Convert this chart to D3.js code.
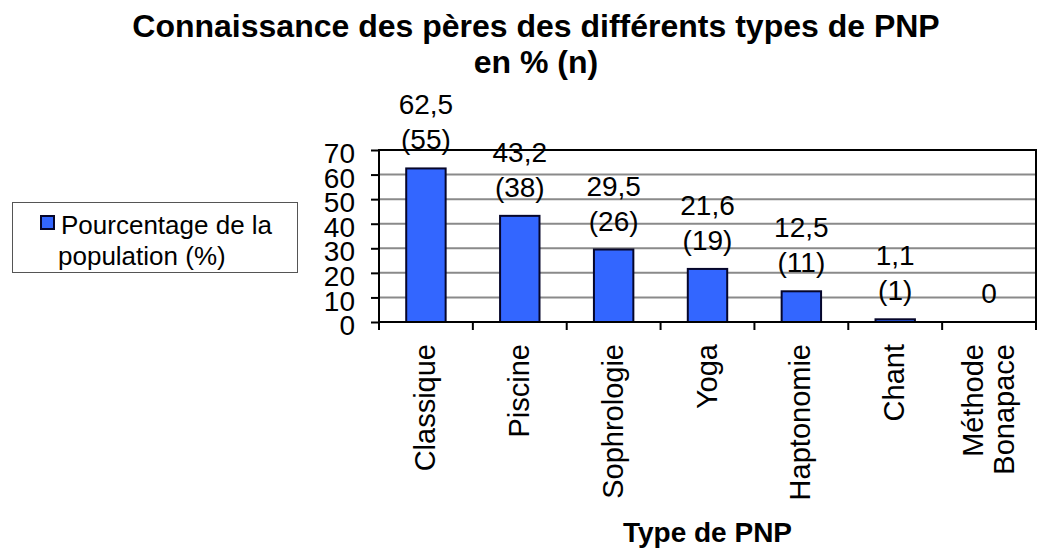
<!DOCTYPE html>
<html>
<head>
<meta charset="utf-8">
<script src="https://cdn.jsdelivr.net/npm/d3@7"></script>
<style>
  body { margin: 0; background: #fff; }
  text { font-family: "Liberation Sans", Arial, sans-serif; fill: #000; }
</style>
</head>
<body>
<div id="chart"></div>
<script>
// data
const categories = ["Classique", "Piscine", "Sophrologie", "Yoga", "Haptonomie", "Chant", "Méthode Bonapace"];
const percentages = [62.5, 43.2, 29.5, 21.6, 12.5, 1.1, 0];
const counts = [55, 38, 26, 19, 11, 1, 0];
const yTicks = [0, 10, 20, 30, 40, 50, 60, 70];
const titleLines = ["Connaissance des pères des différents types de PNP", "en % (n)"];
const xTitle = "Type de PNP";
const legendLines = ["Pourcentage de la", "population (%)"];

const width = 1038, height = 548;
const plot = { left: 379, right: 1036, top: 150, bottom: 322 };

const svg = d3.select("#chart").append("svg")
  .attr("width", width)
  .attr("height", height);

const x = d3.scaleBand()
  .domain(categories)
  .range([plot.left, plot.right])
  .paddingInner(0.58)
  .paddingOuter(0.29);

const y = d3.scaleLinear()
  .domain([0, 70])
  .range([plot.bottom, plot.top]);

// title
svg.append("text")
  .attr("text-anchor", "middle")
  .style("font-size", "32px")
  .style("font-weight", "bold")
  .selectAll("tspan")
  .data(titleLines)
  .join("tspan")
  .attr("x", 536)
  .attr("y", (d, i) => 37 + i * 36)
  .text(d => d);

// grid lines
svg.append("g")
  .selectAll("line")
  .data(yTicks.filter(t => t > 0 && t < 70))
  .join("line")
  .attr("x1", plot.left)
  .attr("x2", plot.right)
  .attr("y1", d => y(d))
  .attr("y2", d => y(d))
  .attr("stroke", "#8a8a8a")
  .attr("stroke-width", 2);

// y axis
const yAxis = svg.append("g")
  .attr("transform", `translate(${plot.left},0)`)
  .call(d3.axisLeft(y).tickValues(yTicks).tickSize(8).tickPadding(16));
yAxis.select(".domain").remove();
yAxis.selectAll(".tick line").attr("stroke", "#000").attr("stroke-width", 2);
yAxis.selectAll(".tick text")
  .attr("dy", "0.45em")
  .style("font-size", "28px")
  .style("font-family", "'Liberation Sans', Arial, sans-serif");

// x tick marks at category boundaries
const step = x.step();
svg.append("g")
  .selectAll("line")
  .data(d3.range(categories.length + 1))
  .join("line")
  .attr("x1", i => plot.left + i * step)
  .attr("x2", i => plot.left + i * step)
  .attr("y1", plot.bottom)
  .attr("y2", plot.bottom + 8)
  .attr("stroke", "#000")
  .attr("stroke-width", 2);

// bars
svg.append("g")
  .selectAll("rect")
  .data(categories.filter((c, i) => percentages[i] > 0))
  .join("rect")
  .attr("x", d => x(d))
  .attr("y", d => y(percentages[categories.indexOf(d)]))
  .attr("width", x.bandwidth())
  .attr("height", d => plot.bottom - y(percentages[categories.indexOf(d)]))
  .attr("fill", "#3366ff")
  .attr("stroke", "#06062a")
  .attr("stroke-width", 2);

// plot frame
svg.append("rect")
  .attr("x", plot.left)
  .attr("y", plot.top)
  .attr("width", plot.right - plot.left)
  .attr("height", plot.bottom - plot.top)
  .attr("fill", "none")
  .attr("stroke", "#000")
  .attr("stroke-width", 2);

// value labels
const fmt = v => String(v).replace(".", ",");
const labels = svg.append("g")
  .selectAll("text")
  .data(categories)
  .join("text")
  .attr("text-anchor", "middle")
  .style("font-size", "28px");
labels.each(function(d, i) {
  const cx = x(d) + x.bandwidth() / 2;
  const base = y(percentages[i]) - 19;
  const lines = counts[i] > 0 ? [fmt(percentages[i]), "(" + counts[i] + ")"] : [fmt(percentages[i])];
  d3.select(this).selectAll("tspan")
    .data(lines)
    .join("tspan")
    .attr("x", cx)
    .attr("y", (l, j) => base - (lines.length - 1 - j) * 35)
    .text(l => l);
});

// category labels, rotated
svg.append("g")
  .selectAll("text")
  .data(categories)
  .join("text")
  .attr("transform", d => `translate(${x(d) + x.bandwidth() / 2 + 9},344) rotate(-90)`)
  .attr("text-anchor", "end")
  .style("font-size", "29px")
  .each(function(d) {
    const parts = d.split(" ");
    d3.select(this).selectAll("tspan")
      .data(parts)
      .join("tspan")
      .attr("x", 0)
      .attr("y", (p, j) => (j - (parts.length - 1) / 2) * 31)
      .text(p => p);
  });

// x axis title
svg.append("text")
  .attr("x", (plot.left + plot.right) / 2)
  .attr("y", 542)
  .attr("text-anchor", "middle")
  .style("font-size", "28px")
  .style("font-weight", "bold")
  .text(xTitle);

// legend
const legend = svg.append("g");
legend.append("rect")
  .attr("x", 12.5)
  .attr("y", 202.5)
  .attr("width", 285)
  .attr("height", 70)
  .attr("fill", "#fff")
  .attr("stroke", "#555")
  .attr("stroke-width", 1);
legend.append("rect")
  .attr("x", 41)
  .attr("y", 216)
  .attr("width", 13)
  .attr("height", 13)
  .attr("fill", "#3366ff")
  .attr("stroke", "#06062a")
  .attr("stroke-width", 2);
legend.append("text")
  .style("font-size", "26px")
  .selectAll("tspan")
  .data(legendLines)
  .join("tspan")
  .attr("x", (d, i) => i === 0 ? 61 : 58)
  .attr("y", (d, i) => 234 + i * 31)
  .text(d => d);
</script>
</body>
</html>
